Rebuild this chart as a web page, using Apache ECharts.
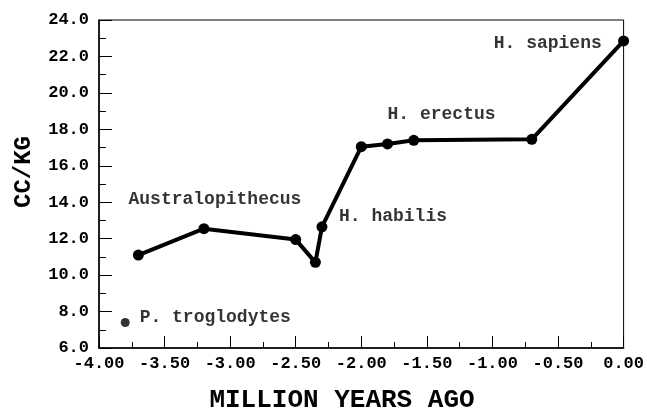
<!DOCTYPE html>
<html><head><meta charset="utf-8">
<script src="https://cdn.jsdelivr.net/npm/echarts@6/dist/echarts.min.js"></script>
<style>html,body{margin:0;padding:0;background:#fff}#c{width:647px;height:413px}</style>
</head><body><div id="c"></div>
<script>
// Data
const mainX = [-3.70, -3.20, -2.50, -2.35, -2.30, -2.00, -1.80, -1.60, -0.70, 0.00];
const mainY = [11.1, 12.55, 11.95, 10.7, 12.65, 17.05, 17.2, 17.4, 17.45, 22.85];
const chimpX = [-3.80];
const chimpY = [7.4];
const labelNames = ['Australopithecus', 'P. troglodytes', 'H. habilis', 'H. erectus', 'H. sapiens'];
const labelX = [-3.775, -3.69, -2.17, -1.80, -0.99];
const labelY = [14.15, 7.7, 13.2, 18.8, 22.7];
const xTitle = 'MILLION YEARS AGO';
const yTitle = 'CC/KG';

const FONT = '"Liberation Mono", "Courier New", monospace';
const chart = echarts.init(document.getElementById('c'), null, {renderer: 'canvas'});
const pairs = (xs, ys) => xs.map((x, i) => [x, ys[i]]);

chart.setOption({
  animation: false,
  backgroundColor: '#fff',
  grid: {left: 99, right: 20, top: 20, bottom: 65, show: true, borderColor: '#000', borderWidth: 1},
  xAxis: {
    type: 'value', min: -4, max: 0, interval: 0.5,
    axisLine: {show: true, onZero: false, lineStyle: {color: '#000', width: 1.5}},
    axisTick: {show: true, inside: true, length: 12, lineStyle: {color: '#000', width: 1}},
    minorTick: {show: true, splitNumber: 2, length: 6, lineStyle: {color: '#000', width: 1}},
    splitLine: {show: false},
    axisLabel: {color: '#000', fontFamily: FONT, fontWeight: 'bold', fontSize: 17, margin: 7,
      formatter: v => v.toFixed(2)}
  },
  yAxis: {
    type: 'value', min: 6, max: 24, interval: 2,
    axisLine: {show: true, onZero: false, lineStyle: {color: '#000', width: 1.5}},
    axisTick: {show: true, inside: true, length: 13, lineStyle: {color: '#000', width: 1}},
    minorTick: {show: true, splitNumber: 2, length: 7, lineStyle: {color: '#000', width: 1}},
    splitLine: {show: false},
    axisLabel: {color: '#000', fontFamily: FONT, fontWeight: 'bold', fontSize: 17, margin: 10,
      formatter: v => v.toFixed(1)}
  },
  graphic: [
    {type: 'text', x: 342, y: 400, style: {text: xTitle, fill: '#000', font: 'bold 26px ' + FONT, textAlign: 'center', textVerticalAlign: 'middle'}},
    {type: 'text', x: 24, y: 172, rotation: Math.PI / 2, style: {text: yTitle, fill: '#000', font: 'bold 24px ' + FONT, textAlign: 'center', textVerticalAlign: 'middle'}}
  ],
  series: [
    {type: 'line', data: pairs(mainX, mainY), symbol: 'circle', symbolSize: 11,
      lineStyle: {color: '#000', width: 4}, itemStyle: {color: '#000'}, z: 3},
    {type: 'scatter', data: pairs(chimpX, chimpY), symbol: 'circle', symbolSize: 9,
      itemStyle: {color: '#000'}, z: 3},
    {type: 'scatter', data: labelNames.map((n, i) => ({name: n, value: [labelX[i], labelY[i]]})),
      symbolSize: 0, silent: true,
      label: {show: true, position: 'right', distance: 0, formatter: p => p.name,
        color: '#000', fontFamily: FONT, fontWeight: 'bold', fontSize: 18}}
  ]
});
</script></body></html>
